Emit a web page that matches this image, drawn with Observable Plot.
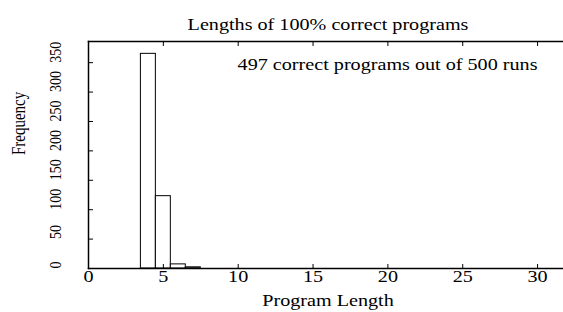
<!DOCTYPE html>
<html><head><meta charset="utf-8">
<script src="https://cdn.jsdelivr.net/npm/d3@7"></script>
<script src="https://cdn.jsdelivr.net/npm/@observablehq/plot@0.6"></script>
<style>html,body{margin:0;background:#fff;overflow:hidden}</style>
</head><body><div id="chart"></div>
<script>
const lengths = [4, 5, 6, 7];
const frequencies = [365, 123, 7, 2];
const xTicks = [0, 5, 10, 15, 20, 25, 30];
const yTicks = [0, 50, 100, 150, 200, 250, 300, 350];
const title = "Lengths of 100% correct programs";
const note = "497 correct programs out of 500 runs";
const xLabel = "Program Length";
const yLabel = "Frequency";

const data = lengths.map((l, i) => ({x1: l - 0.5, x2: l + 0.5, y: frequencies[i]}));
const font = "Liberation Serif, Times New Roman, serif";

const chart = Plot.plot({
  width: 568, height: 312,
  marginTop: 41, marginBottom: 44, marginLeft: 88, marginRight: 1,
  style: {fontFamily: font, fontSize: "16px", color: "#000", background: "#fff", overflow: "visible", maxWidth: "none"},
  x: {domain: [0, 32], label: null},
  y: {domain: [0, 386], label: null},
  marks: [
    Plot.rectY(data, {x1: "x1", x2: "x2", y: "y", fill: "white", stroke: "black", strokeWidth: 1}),
    Plot.frame({anchor: "left", stroke: "black", strokeWidth: 1.5}),
    Plot.frame({anchor: "top", stroke: "black", strokeWidth: 1.5}),
    Plot.frame({anchor: "bottom", stroke: "black", strokeWidth: 1.5}),
    Plot.axisX(xTicks, {anchor: "bottom", tickSize: -4, tickFormat: () => "", strokeWidth: 1}),
    Plot.axisX(xTicks, {anchor: "top", tickSize: -4, tickFormat: () => "", strokeWidth: 1}),
    Plot.axisY(yTicks, {anchor: "left", tickSize: -5, tickFormat: () => "", strokeWidth: 1}),
    Plot.axisY(yTicks, {anchor: "right", tickSize: -5, tickFormat: () => "", strokeWidth: 1}),
    Plot.text(xTicks, {x: d => d, text: d => String(d), frameAnchor: "bottom", dy: 13, fontSize: 16}),
    Plot.text(yTicks, {y: d => d, text: d => String(d), frameAnchor: "left", dx: -33, rotate: -90, fontSize: 14}),
    Plot.text([title], {frameAnchor: "top", dy: -23, fontSize: 16}),
    Plot.text([note], {frameAnchor: "top-right", dx: -30, dy: 17, fontSize: 16, textAnchor: "end"}),
    Plot.text([xLabel], {frameAnchor: "bottom", dy: 37, fontSize: 16}),
    Plot.text([yLabel], {frameAnchor: "left", dx: -70, rotate: -90, fontSize: 15})
  ]
});
chart.style.maxWidth = "none";
document.getElementById("chart").appendChild(chart);

// horizontal stretch of the serif lettering, as in the reference
const SX = 1.26;
const svg = chart.tagName.toLowerCase() === "svg" ? chart : chart.querySelector("svg");
svg.style.maxWidth = "none";
svg.querySelectorAll("text").forEach(t => {
  if (!t.textContent.trim()) return;
  const r = t.getBoundingClientRect();
  const tr = t.getAttribute("transform") || "";
  const anchor = getComputedStyle(t).textAnchor;
  let ox = (r.left + r.right) / 2;
  if (!/rotate/.test(tr)) {
    if (anchor === "start") ox = r.left;
    else if (anchor === "end") ox = r.right;
  }
  const pt = svg.createSVGPoint();
  pt.x = ox; pt.y = (r.top + r.bottom) / 2;
  const p = pt.matrixTransform(t.parentNode.getScreenCTM().inverse());
  t.setAttribute("transform", `translate(${p.x},0) scale(${SX},1) translate(${-p.x},0) ${tr}`);
});
</script></body></html>
